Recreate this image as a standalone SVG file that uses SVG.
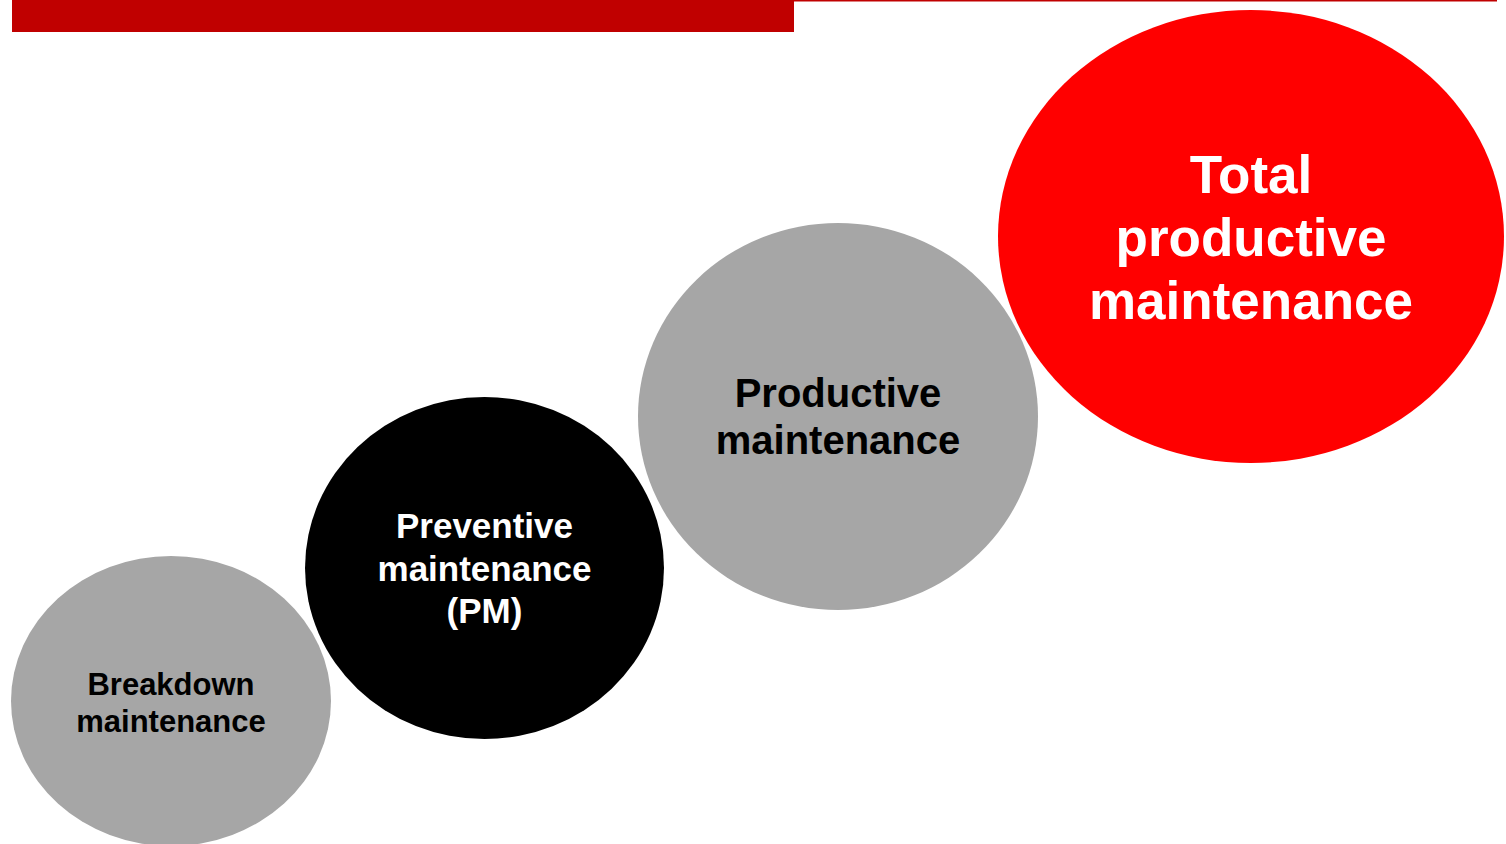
<svg xmlns="http://www.w3.org/2000/svg" width="1506" height="844" viewBox="0 0 1506 844">
  <style>
    .lbl { font-family: "Liberation Sans", Arial, sans-serif; font-weight: bold; text-anchor: middle; }
    .dark { fill: #000000; }
    .light { fill: #ffffff; }
    .grey { fill: #a6a6a6; }
  </style>
  <rect x="0" y="0" width="1506" height="844" fill="#ffffff"/>
  <!-- header band -->
  <g id="header">
    <rect x="12" y="0" width="782" height="32" fill="#c00000"/>
    <rect x="794" y="0" width="703" height="1.5" fill="#c00000"/>
  </g>
  <g id="connectors"/>
  <g id="breakdown">
    <ellipse class="grey" cx="171" cy="701" rx="160" ry="145"/>
    <text class="lbl dark" font-size="31" x="171" y="695">Breakdown</text>
    <text class="lbl dark" font-size="31" x="171" y="732">maintenance</text>
  </g>
  <g id="preventive">
    <ellipse fill="#000000" cx="484.5" cy="568" rx="179.5" ry="171"/>
    <text class="lbl light" font-size="35" x="484.5" y="538">Preventive</text>
    <text class="lbl light" font-size="35" x="484.5" y="581">maintenance</text>
    <text class="lbl light" font-size="35" x="484.5" y="623">(PM)</text>
  </g>
  <g id="productive">
    <ellipse class="grey" cx="838" cy="416.5" rx="200" ry="193.5"/>
    <text class="lbl dark" font-size="40" x="838" y="407">Productive</text>
    <text class="lbl dark" font-size="40" x="838" y="454">maintenance</text>
  </g>
  <g id="tpm">
    <ellipse fill="#ff0000" cx="1251" cy="236.5" rx="253" ry="226.5"/>
    <text class="lbl light" font-size="53" x="1251" y="193">Total</text>
    <text class="lbl light" font-size="53" x="1251" y="256">productive</text>
    <text class="lbl light" font-size="53" x="1251" y="319">maintenance</text>
  </g>
</svg>
